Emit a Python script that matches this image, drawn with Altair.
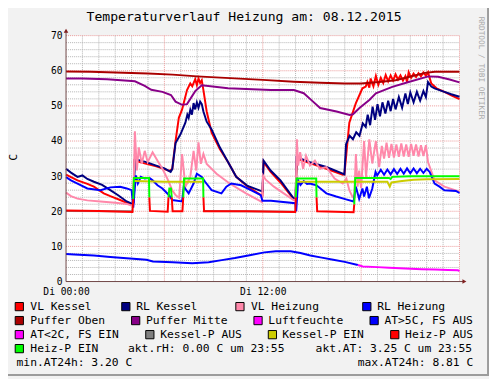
import altair as alt
import pandas as pd

# ---------------- data (hours since 00:00, temperature in C) ----------------
VL_KESSEL = [(0,30.4),(0.7,28.8),(1.3,27.8),(1.7,27.0),(2.3,25.1),(2.7,24.3),(3.3,23.2),(4.0,21.8),(4.1,22.2),(4.17,34.5),(4.5,34.0),(4.9,33.5),(5.5,32.8),(6.0,32.0),(6.3,31.5),(6.48,32.0),(6.68,40.0),(6.88,46.6),(7.08,49.0),(7.18,50.8),(7.38,54.5),(7.58,56.4),(7.7,55.6),(7.88,57.6),(7.98,55.9),(8.08,57.8),(8.18,56.5),(8.28,57.3),(8.38,54.5),(8.58,48.4),(8.88,42.4),(9.38,37.7),(9.88,34.0),(10.38,29.8),(11.08,27.0),(11.88,24.6),(11.98,24.5),(12.05,34.0),(12.48,31.2),(13.08,28.2),(13.88,23.5),(14.0,23.4),(14.08,35.0),(14.5,34.3),(15.0,33.5),(15.88,32.1),(16.88,30.4),(16.98,30.5),(17.28,45.2),(17.68,50.8),(18.08,55.0),(18.28,55.5),(18.38,56.8),(18.5,55.2),(18.58,57.8),(18.75,55.6),(18.9,58.5),(19.05,56.0),(19.2,58.0),(19.35,56.5),(19.5,58.8),(19.65,57.0),(19.8,58.7),(19.95,57.2),(20.1,59.0),(20.25,57.5),(20.4,58.7),(20.55,57.2),(20.7,58.5),(20.8,56.8),(20.9,59.6),(21.05,58.0),(21.2,59.2),(21.35,58.2),(21.5,59.3),(21.65,58.4),(21.8,59.5),(21.95,58.6),(22.08,59.6),(22.28,56.4),(22.6,55.0),(23.08,54.0),(23.5,53.0),(24.0,51.9)]
RL_KESSEL = [(0,32.1),(0.3,31.0),(0.7,29.8),(1.0,30.2),(1.3,29.2),(1.7,28.4),(2.2,27.5),(2.7,26.0),(3.2,24.5),(3.7,22.8),(4.05,22.1),(4.12,22.5),(4.2,34.8),(4.5,34.5),(4.9,34.0),(5.5,33.0),(6.0,32.2),(6.38,31.2),(6.48,32.0),(6.68,39.4),(6.98,41.9),(7.28,45.2),(7.4,47.5),(7.48,46.6),(7.58,48.9),(7.68,47.5),(7.78,50.8),(7.88,49.0),(7.98,51.0),(8.08,49.5),(8.18,51.2),(8.28,50.5),(8.38,48.4),(8.58,45.5),(8.88,43.3),(9.38,38.2),(9.88,34.0),(10.38,29.8),(11.08,27.2),(11.88,25.8),(11.98,25.7),(12.05,34.4),(12.48,31.6),(13.08,28.8),(13.88,23.7),(14.0,23.6),(14.06,35.4),(14.88,34.0),(15.88,32.6),(16.88,30.7),(16.98,30.5),(17.08,39.1),(17.3,41.5),(17.5,40.5),(17.7,42.5),(17.9,41.5),(18.1,45.0),(18.28,44.0),(18.4,47.5),(18.55,44.5),(18.7,49.8),(18.85,46.0),(19.0,50.5),(19.15,47.0),(19.3,51.0),(19.48,47.8),(19.65,51.5),(19.8,48.5),(19.95,52.0),(20.1,49.0),(20.3,52.5),(20.5,49.5),(20.7,53.5),(20.85,50.5),(21.0,53.8),(21.2,51.0),(21.4,54.0),(21.6,51.5),(21.8,54.2),(21.95,52.5),(22.08,56.8),(22.28,55.5),(22.48,55.0),(23.08,54.0),(23.5,53.3),(24.0,52.6)]
VL_HEIZUNG = [(0,25.3),(0.3,24.3),(0.7,23.6),(1.3,23.1),(2.1,22.8),(3.0,22.4),(3.7,22.1),(4.0,21.6),(4.1,22.0),(4.2,42.8),(4.32,31.6),(4.44,38.2),(4.62,33.5),(4.8,37.2),(4.98,34.0),(5.28,36.8),(5.58,34.4),(5.88,32.1),(6.18,29.3),(6.48,26.0),(6.68,24.6),(6.9,23.8),(7.08,36.3),(7.28,27.0),(7.58,29.8),(7.78,37.2),(7.94,31.6),(8.08,39.6),(8.22,33.5),(8.38,36.3),(8.58,33.5),(9.18,30.7),(9.98,27.9),(10.98,25.1),(11.88,22.8),(11.95,22.6),(12.02,30.2),(12.18,29.0),(12.68,27.0),(13.28,25.1),(13.88,23.2),(14.0,23.0),(14.08,40.5),(14.16,33.0),(14.28,36.8),(14.46,32.1),(14.64,35.8),(14.88,33.0),(15.18,34.4),(15.48,32.1),(15.88,32.6),(16.38,29.3),(16.88,27.9),(17.1,29.3),(17.28,26.0),(17.46,24.2),(17.58,23.7),(17.68,36.3),(17.78,27.0),(17.88,31.6),(18.0,26.6),(18.18,40.0),(18.3,29.8),(18.5,40.5),(18.68,33.6),(18.9,40.0),(19.1,32.6),(19.26,38.6),(19.4,35.0),(19.55,39.5),(19.7,35.2),(19.85,39.2),(20.0,35.3),(20.15,39.0),(20.3,35.5),(20.45,39.3),(20.6,35.6),(20.75,39.0),(20.9,35.5),(21.05,39.2),(21.2,35.8),(21.35,39.0),(21.5,35.6),(21.65,38.8),(21.8,35.7),(21.95,38.8),(22.08,34.0),(22.48,28.8),(23.08,27.0),(24.0,25.6)]
RL_HEIZUNG = [(0,29.7),(0.3,28.8),(0.7,27.9),(1.3,26.5),(2.1,26.0),(2.7,26.8),(3.3,27.0),(3.7,26.5),(4.0,26.0),(4.1,21.0),(4.26,30.2),(4.38,27.9),(4.56,29.8),(4.8,29.3),(5.08,29.5),(5.28,28.8),(5.58,27.4),(5.88,26.5),(6.3,24.5),(6.48,23.2),(7.08,22.8),(7.18,27.0),(7.48,25.1),(7.78,27.9),(7.98,30.7),(8.28,29.8),(8.48,28.4),(8.88,26.0),(9.48,25.1),(9.78,27.0),(10.08,27.9),(10.68,27.4),(11.28,26.0),(11.88,24.6),(11.98,23.0),(12.5,23.0),(13.98,22.3),(14.04,20.0),(14.16,28.8),(14.3,27.5),(14.5,28.6),(14.7,27.8),(14.88,27.9),(15.28,27.4),(15.88,25.1),(16.48,24.2),(17.08,23.4),(17.54,22.8),(17.68,27.0),(17.88,23.5),(18.08,26.5),(18.18,24.2),(18.35,27.0),(18.48,23.7),(18.68,26.5),(18.88,31.2),(18.98,30.2),(19.2,31.8),(19.4,30.4),(19.6,31.9),(19.8,30.5),(20.0,32.0),(20.2,30.6),(20.4,32.1),(20.6,30.7),(20.8,32.2),(21.0,30.8),(21.2,32.2),(21.4,30.8),(21.6,32.1),(21.8,30.9),(22.0,32.1),(22.18,31.2),(22.48,27.9),(22.78,27.0),(23.08,26.0),(23.78,25.8),(24.0,25.2)]
PUFFER_OBEN = [(0,59.8),(1.5,59.7),(3,59.5),(5,59.2),(6.5,58.9),(8,58.4),(10,57.9),(12,57.4),(13.9,56.9),(15.5,56.6),(17,56.4),(18,56.4),(19.1,56.8),(20.1,57.3),(20.9,58.2),(21.9,59.4),(22.5,59.7),(24,59.7)]
PUFFER_MITTE = [(0,57.8),(1,57.8),(2.5,57.6),(4.0,57.1),(4.2,57.0),(4.8,55.7),(5.2,54.6),(5.88,54.0),(6.4,53.1),(6.68,51.2),(7.08,50.3),(7.38,50.5),(7.88,54.2),(8.28,55.9),(9.88,55.0),(12.5,54.5),(13.9,54.5),(14.5,53.6),(15.0,51.5),(15.5,49.4),(16.5,48.4),(17.3,47.4),(17.5,47.6),(17.9,49.4),(18.5,51.7),(18.9,53.6),(19.9,55.4),(20.9,56.8),(22.1,58.4),(22.7,58.3),(23.4,57.5),(24,56.7)]
LUFTFEUCHTE = []  # rel. humidity: no valid readings drawn on this day (akt.rH 0.00)
AT_WARM = [(0,7.84),(0.5,7.7),(1.7,7.4),(2.7,7.0),(3.7,6.6),(4.9,6.2),(5.3,5.7),(6.5,5.5),(7.7,5.2),(8.7,5.5),(9.5,6.1),(10.3,6.7),(11.2,7.5),(12.1,8.3),(12.8,8.6),(13.7,8.6),(14.3,8.1),(14.9,7.4),(15.6,6.8),(16.3,6.2),(17.0,5.6),(17.8,4.7)]
AT_KALT = [(17.8,4.7),(18.1,4.3),(19.0,4.1),(19.7,3.9),(20.7,3.7),(21.7,3.5),(22.5,3.4),(23.3,3.3),(23.9,3.2),(24,3.0)]
KESSEL_P_AUS = [[(0,20.1),(4.1,20.0)],[(8.35,20.1),(14.0,19.9)]]
KESSEL_P_EIN = [[(4.15,28.6),(6.0,28.4),(8.3,28.4)],[(14.05,28.4),(17.5,28.4),(19.6,28.4),(19.75,27.0),(19.85,28.2),(20.5,28.6),(21.2,29.0),(22.0,29.1),(24,29.2)]]
HEIZ_P_AUS = [[(0,20.2),(2.0,20.1),(4.05,19.8),(4.1,23.5)],[(5.08,24),(5.12,20.1),(6.2,19.9),(6.25,24)],[(6.45,24),(6.5,20.0),(7.1,20.0),(7.15,24)],[(8.38,24),(8.42,20.0),(11,20.0),(13.98,19.8),(14.02,24)],[(15.28,24),(15.32,20.0),(17.54,19.7),(17.58,22)]]
HEIZ_P_EIN = [[(4.1,23.5),(4.14,29.5),(5.06,29.5),(5.08,24)],[(6.25,24),(6.3,26.5),(6.4,26.5),(6.45,24)],[(7.15,24),(7.2,29.3),(8.36,29.3),(8.38,24)],[(14.02,24),(14.06,29.3),(15.26,29.3),(15.28,24)],[(17.58,22),(17.64,29.5),(19.7,29.5),(19.8,29.2),(19.9,29.8),(21.0,30.0),(24,30.0)]]

SERIES = [
    ("VL Kessel", "#FF0000", [VL_KESSEL]),
    ("RL Kessel", "#000080", [RL_KESSEL]),
    ("VL Heizung", "#FF88AA", [VL_HEIZUNG]),
    ("RL Heizung", "#0000FF", [RL_HEIZUNG]),
    ("Puffer Oben", "#AA0000", [PUFFER_OBEN]),
    ("Puffer Mitte", "#880088", [PUFFER_MITTE]),
    ("Luftfeuchte", "#FF00FF", [LUFTFEUCHTE]),
    ("AT>5C, FS AUS", "#0000FF", [AT_WARM]),
    ("AT<2C, FS EIN", "#FF00FF", [AT_KALT]),
    ("Kessel-P AUS", "#808080", KESSEL_P_AUS),
    ("Kessel-P EIN", "#CCCC00", KESSEL_P_EIN),
    ("Heiz-P AUS", "#FF0000", HEIZ_P_AUS),
    ("Heiz-P EIN", "#00FF00", HEIZ_P_EIN),
]
COLORS = {name: col for name, col, _ in SERIES}

TITLE = "Temperaturverlauf Heizung am: 08.12.2015"
Y_TICKS = [0, 10, 20, 30, 40, 50, 60, 70]
X_TICKS = [0, 12]
X_LABELS = ["Di 00:00", "Di 12:00"]
MINOR_X = list(range(0, 25))
MAJOR_X = [0, 6, 12, 18, 24]
MINOR_Y = list(range(0, 71, 2))
MAJOR_Y = list(range(0, 71, 10))

LEGEND_ROWS = [
    ["VL Kessel", "RL Kessel", "VL Heizung", "RL Heizung"],
    ["Puffer Oben", "Puffer Mitte", "Luftfeuchte", "AT>5C, FS AUS"],
    ["AT<2C, FS EIN", "Kessel-P AUS", "Kessel-P EIN", "Heiz-P AUS"],
    ["Heiz-P EIN"],
]
INFO_TEXTS = ["akt.rH: 0.00 C um 23:55", "akt.AT: 3.25 C um 23:55",
              "min.AT24h: 3.20 C", "max.AT24h: 8.81 C"]

# ---------------- layout (absolute page pixels -> plot coords) ----------------
OX, OY = 67, 33  # absolute position of plot origin (top-left)
W, H = 400, 250
FONT = "DejaVu Sans Mono"

def P(x, y):
    return x - OX, y - OY

x_scale = alt.Scale(domain=[0, 24], nice=False, zero=False)
y_scale = alt.Scale(domain=[0, 70], nice=False, zero=False)
X_AXIS = alt.Axis(
    values=X_TICKS, labelExpr="datum.value == 0 ? '%s' : '%s'" % (X_LABELS[0], X_LABELS[1]),
    labelFont=FONT, labelFontSize=9.8, labelColor="#000000", labelPadding=5, labelOverlap=False,
    labelFlush=False, ticks=False, domain=False, grid=False, title=None)
Y_AXIS = alt.Axis(
    values=Y_TICKS, labelFont=FONT, labelFontSize=9.8, labelColor="#000000", labelOverlap=False,
    labelPadding=4, ticks=False, domain=False, grid=False, title=None)

def X(field="t:Q"):
    return alt.X(field, scale=x_scale, axis=X_AXIS)

def Y(field="v:Q"):
    return alt.Y(field, scale=y_scale, axis=Y_AXIS)

one = pd.DataFrame({"d": [0]})
layers = []

# grids
minor_x = pd.DataFrame({"t": [v for v in MINOR_X if v not in MAJOR_X]})
major_x = pd.DataFrame({"t": MAJOR_X[1:]})
minor_y = pd.DataFrame({"v": [v for v in MINOR_Y if v not in MAJOR_Y]})
major_y = pd.DataFrame({"v": MAJOR_Y[1:]})
grid_minor_col = "#B4B4B4"
grid_major_col = "#EC9A9A"
layers.append(alt.Chart(minor_x).mark_rule(color=grid_minor_col, strokeWidth=1, strokeDash=[1, 1]).encode(
    x=X(), y=alt.value(0), y2=alt.value(H)))
layers.append(alt.Chart(minor_y).mark_rule(color=grid_minor_col, strokeWidth=1, strokeDash=[1, 1]).encode(
    y=Y(), x=alt.value(0), x2=alt.value(W)))
layers.append(alt.Chart(major_x).mark_rule(color=grid_major_col, strokeWidth=1, strokeDash=[1, 1]).encode(
    x=X(), y=alt.value(0), y2=alt.value(H)))
layers.append(alt.Chart(major_y).mark_rule(color=grid_major_col, strokeWidth=1, strokeDash=[1, 1]).encode(
    y=Y(), x=alt.value(0), x2=alt.value(W)))

# data lines
for name, col, segs in SERIES:
    rows = []
    for i, seg in enumerate(segs):
        for t, v in seg:
            rows.append({"t": t, "v": v, "seg": f"{name}_{i}"})
    if not rows:
        continue
    df = pd.DataFrame(rows)
    layers.append(alt.Chart(df).mark_line(color=col, strokeWidth=2, clip=False).encode(
        x=X(), y=Y(), detail="seg:N", order="t:Q"))

# axis lines with arrows
axis_col = "#6E4444"
arrow_col = "#801F1F"
layers.append(alt.Chart(one).mark_rule(color=axis_col, strokeWidth=1).encode(
    x=alt.value(0), y=alt.value(-5), y2=alt.value(H)))
layers.append(alt.Chart(one).mark_rule(color=axis_col, strokeWidth=1).encode(
    x=alt.value(0), x2=alt.value(W + 5), y=alt.value(H)))
layers.append(alt.Chart(one).mark_point(shape="triangle-up", filled=True, color=arrow_col, size=22, opacity=1).encode(
    x=alt.value(0), y=alt.value(-5)))
layers.append(alt.Chart(one).mark_point(shape="triangle-right", filled=True, color=arrow_col, size=22, opacity=1).encode(
    x=alt.value(W + 5), y=alt.value(H)))

# text helper
def text(s, x, y, size=11.5, align="left", angle=0, color="#000000", baseline="alphabetic"):
    px, py = P(x, y)
    return alt.Chart(one).mark_text(text=s, font=FONT, fontSize=size, align=align, baseline=baseline,
                                    angle=angle, color=color).encode(x=alt.value(px), y=alt.value(py))

layers.append(text(TITLE, 248, 18.3, size=13.3, align="center"))
layers.append(text("C", 14, 156.7, size=11.5, align="center", angle=270, baseline="middle"))
layers.append(text("RRDTOOL / TOBI OETIKER", 488.5, 66, size=7.9, align="center", angle=90,
                   color="#A8A8A8", baseline="middle"))

# legend
sq_x = [[19.5, 127.8, 243.8, 372.8], [19.5, 137.8, 262.2, 380.2], [19.5, 152.2, 276.8, 401.2], [19.5]]
tx_x = [[30.7, 138.3, 255.0, 383.3], [30.7, 148.3, 272.7, 390.7], [30.7, 162.7, 286.7, 411.7], [30.7]]
base_y = [312.3, 326.5, 340.8, 355.0, 368.7]
for r, row in enumerate(LEGEND_ROWS):
    for c, label in enumerate(row):
        sx, sy = P(sq_x[r][c], base_y[r] - 3.8)
        layers.append(alt.Chart(one).mark_square(size=70, fill=COLORS[label], stroke="#000000",
                                                  strokeWidth=1, opacity=1).encode(
            x=alt.value(sx), y=alt.value(sy)))
        layers.append(text(label, tx_x[r][c], base_y[r]))
layers.append(text(INFO_TEXTS[0], 130.0, base_y[3]))
layers.append(text(INFO_TEXTS[1], 320.7, base_y[3]))
layers.append(text(INFO_TEXTS[2], 16.7, base_y[4]))
layers.append(text(INFO_TEXTS[3], 481.0, base_y[4], align="right"))

# outer frame shading (bottom / right)
layers.append(alt.Chart(one).mark_rule(color="#9C9C9C", strokeWidth=2).encode(
    x=alt.value(496 - OX), y=alt.value(0 - OY), y2=alt.value(379 - OY)))
layers.append(alt.Chart(one).mark_rule(color="#9C9C9C", strokeWidth=2).encode(
    x=alt.value(0 - OX), x2=alt.value(497 - OX), y=alt.value(378 - OY)))

chart = alt.layer(*layers).properties(
    width=W, height=H,
    padding={"left": OX - 8, "top": OY - 8, "right": 497 - 8 - (OX - 8) - W, "bottom": 379 - 8 - (OY - 8) - H},
    autosize=alt.AutoSizeParams(type="none"),
    background="#F2F2F2",
).configure_view(fill="#FFFFFF", stroke=None)

chart.save("out.html", embed_options={"renderer": "svg", "actions": False})
